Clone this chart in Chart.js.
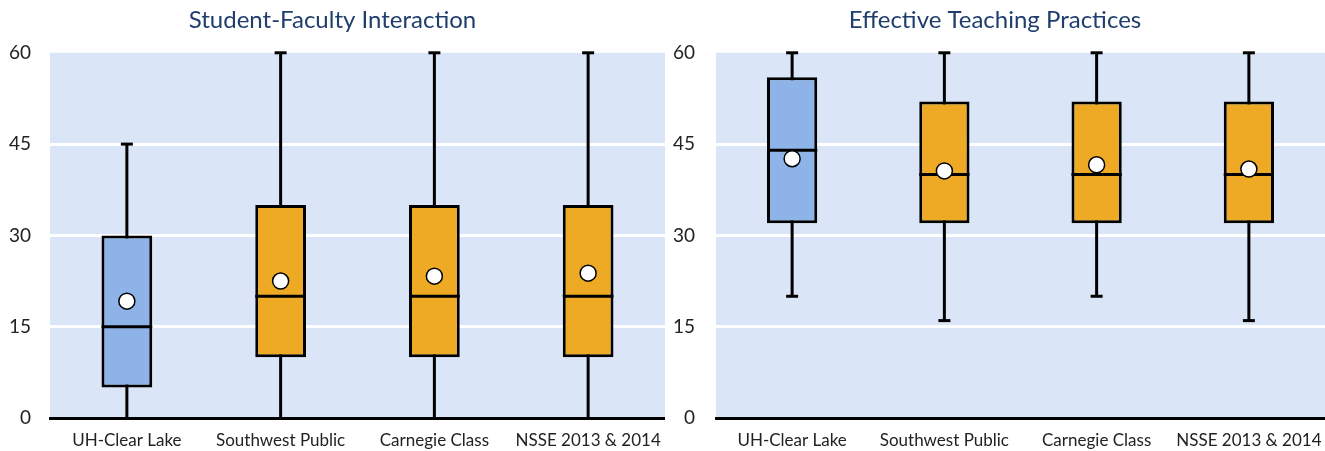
<!DOCTYPE html>
<html>
<head>
<meta charset="utf-8">
<script src="https://cdn.jsdelivr.net/npm/chart.js@4.4.1/dist/chart.umd.min.js"></script>
<style>
  html, body { margin: 0; padding: 0; background: #fff; }
  #left { position: absolute; left: 0; top: 0; }
  #right { position: absolute; left: 665px; top: 0; }
</style>
</head>
<body>
<canvas id="left" width="665" height="451"></canvas>
<canvas id="right" width="660" height="451"></canvas>
<script>
//! ===== Data ===== //
const groups = ['UH-Clear Lake', 'Southwest Public', 'Carnegie Class', 'NSSE 2013 & 2014'];
const yTicks = [0, 15, 30, 45, 60];

// Student-Faculty Interaction
const sfMin    = [0, 0, 0, 0];
const sfQ1     = [5, 10, 10, 10];
const sfMedian = [15, 20, 20, 20];
const sfQ3     = [30, 35, 35, 35];
const sfMax    = [45, 60, 60, 60];
const sfMean   = [19.2, 22.5, 23.3, 23.8];

// Effective Teaching Practices
const etMin    = [20, 16, 20, 16];
const etQ1     = [32, 32, 32, 32];
const etMedian = [44, 40, 40, 40];
const etQ3     = [56, 52, 52, 52];
const etMax    = [60, 60, 60, 60];
const etMean   = [42.6, 40.6, 41.6, 40.9];

const boxColors = ['#8EB3E9', '#EEAA24', '#EEAA24', '#EEAA24'];
const FONT = 'Lato, "Open Sans", sans-serif';

//! ===== Plugins ===== //
const plotBg = {
  id: 'plotBg',
  beforeDraw(chart) {
    const { ctx, chartArea: a } = chart;
    ctx.save();
    ctx.fillStyle = '#DAE5F7';
    ctx.fillRect(a.left, a.top, a.right - a.left, a.bottom - a.top);
    ctx.restore();
  }
};

// whiskers under the boxes, median lines on top of them
const boxParts = {
  id: 'boxParts',
  beforeDatasetsDraw(chart, args, opts) {
    const { ctx, scales: { x, y } } = chart;
    const s = opts.stats;
    ctx.save();
    ctx.strokeStyle = '#000';
    ctx.lineWidth = 3;
    s.min.forEach((v, i) => {
      const cx = x.getPixelForValue(i);
      ctx.beginPath();
      ctx.moveTo(cx, y.getPixelForValue(s.min[i]));
      ctx.lineTo(cx, y.getPixelForValue(s.max[i]));
      ctx.stroke();
      [s.min[i], s.max[i]].forEach(w => {
        if (w === 0) return;
        const py = y.getPixelForValue(w);
        ctx.beginPath();
        ctx.moveTo(cx - 6, py);
        ctx.lineTo(cx + 6, py);
        ctx.stroke();
      });
    });
    ctx.restore();
  },
  afterDatasetDraw(chart, args, opts) {
    if (args.index !== 0) return;
    const { ctx, scales: { y } } = chart;
    const s = opts.stats;
    const meta = chart.getDatasetMeta(0);
    ctx.save();
    ctx.strokeStyle = '#000';
    ctx.lineWidth = 3;
    meta.data.forEach((bar, i) => {
      const py = y.getPixelForValue(s.median[i]);
      ctx.beginPath();
      ctx.moveTo(bar.x - bar.width / 2, py);
      ctx.lineTo(bar.x + bar.width / 2, py);
      ctx.stroke();
    });
    ctx.restore();
  }
};

//! ===== Chart builder ===== //
function makeBoxChart(id, title, stats, axisWidth, tickPad) {
  const ctx = document.getElementById(id).getContext('2d');
  return new Chart(ctx, {
    type: 'bar',
    data: {
      labels: groups,
      datasets: [{
        type: 'bar',
        data: stats.q1.map((v, i) => [v, stats.q3[i]]),
        backgroundColor: boxColors,
        borderColor: '#000',
        borderWidth: 3,
        borderSkipped: false,
        categoryPercentage: 1,
        barPercentage: 0.33,
        order: 2
      }, {
        type: 'line',
        data: stats.mean,
        showLine: false,
        pointRadius: 8,
        pointBackgroundColor: '#fff',
        pointBorderColor: '#000',
        pointBorderWidth: 1.5,
        order: 1
      }]
    },
    options: {
      responsive: false,
      animation: false,
      layout: { autoPadding: false, padding: 0 },
      plugins: {
        legend: { display: false },
        tooltip: { enabled: false },
        title: {
          display: true,
          text: title,
          color: '#1F3D6D',
          font: { family: FONT, size: 24, weight: 'normal' },
          padding: { top: 6, bottom: 18 }
        },
        boxParts: { stats }
      },
      scales: {
        x: {
          grid: { display: false, drawTicks: false },
          border: { display: true, color: '#000', width: 3 },
          afterFit: axis => { axis.height = 33; axis.paddingLeft = 0; axis.paddingRight = 0; },
          ticks: { color: '#222', font: { family: FONT, size: 17 }, padding: 12, maxRotation: 0 }
        },
        y: {
          min: 0,
          max: 60,
          afterBuildTicks: axis => { axis.ticks = yTicks.map(v => ({ value: v })); },
          afterFit: axis => { axis.width = axisWidth; },
          border: { display: false },
          grid: {
            color: c => c.tick.value === 60 ? 'rgba(0,0,0,0)' : (c.tick.value === 0 ? '#000' : '#fff'),
            lineWidth: 3,
            drawTicks: false
          },
          ticks: { color: '#222', font: { family: FONT, size: 19 }, padding: tickPad }
        }
      }
    },
    plugins: [plotBg, boxParts]
  });
}

makeBoxChart('left', 'Student-Faculty Interaction',
  { min: sfMin, q1: sfQ1, median: sfMedian, q3: sfQ3, max: sfMax, mean: sfMean }, 50, 19);
makeBoxChart('right', 'Effective Teaching Practices',
  { min: etMin, q1: etQ1, median: etMedian, q3: etQ3, max: etMax, mean: etMean }, 51, 21);
</script>
</body>
</html>
